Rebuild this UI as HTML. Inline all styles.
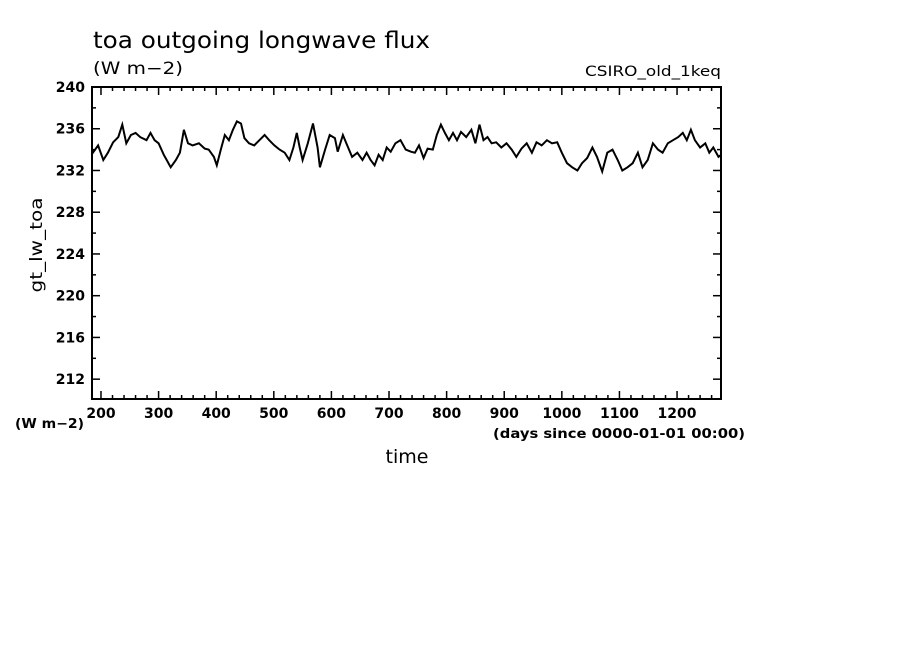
<!DOCTYPE html>
<html><head><meta charset="utf-8"><style>
body{margin:0;background:#fff;}
svg text{font-family:"DejaVu Sans","Liberation Sans",sans-serif;fill:#000;}
</style></head><body>
<svg width="904" height="654" xmlns="http://www.w3.org/2000/svg">
<text x="93" y="48" font-size="23" textLength="337" lengthAdjust="spacingAndGlyphs">toa outgoing longwave flux</text>
<text x="93" y="74" font-size="17" textLength="90" lengthAdjust="spacingAndGlyphs">(W m−2)</text>
<text x="585" y="76" font-size="14" textLength="136" lengthAdjust="spacingAndGlyphs">CSIRO_old_1keq</text>
<text x="15" y="428" font-size="13" font-weight="bold" textLength="69" lengthAdjust="spacingAndGlyphs">(W m−2)</text>
<text x="493" y="438" font-size="13" font-weight="bold" textLength="252" lengthAdjust="spacingAndGlyphs">(days since 0000-01-01 00:00)</text>
<text x="407" y="463" font-size="19" text-anchor="middle">time</text>
<text transform="translate(42,245) rotate(-90)" font-size="17" text-anchor="middle" textLength="95" lengthAdjust="spacingAndGlyphs">gt_lw_toa</text>
<g id="axes"></g>
<defs><clipPath id="clip"><rect x="92" y="87" width="629" height="312"/></clipPath></defs>
<polyline id="series" fill="none" stroke="#000" stroke-width="2" clip-path="url(#clip)"/>
<rect x="92" y="87" width="629" height="312" fill="none" stroke="#000" stroke-width="2"/>
</svg>
<script>
const days=[181,186,195,204,212,221,230,237,244,252,260,268,279,286,293,300,309,314,321,330,337,344,351,359,370,380,387,396,401,408,415,422,429,436,443,449,457,466,475,484,492,501,510,519,527,534,540,545,550,559,568,576,580,589,597,606,611,620,629,636,645,654,661,668,675,682,689,696,703,711,720,729,738,745,752,760,767,776,783,790,797,804,811,818,825,834,843,850,857,864,871,878,886,895,904,913,921,930,939,948,956,965,974,983,992,1000,1009,1018,1027,1035,1044,1053,1061,1070,1079,1088,1097,1105,1114,1123,1132,1140,1149,1158,1167,1175,1184,1193,1202,1210,1217,1224,1231,1240,1249,1256,1263,1272,1281];
const flux=[234.8,233.7,234.4,233.0,233.7,234.7,235.2,236.4,234.6,235.4,235.6,235.2,234.9,235.6,234.9,234.6,233.5,233.0,232.3,233.0,233.7,235.9,234.6,234.4,234.6,234.1,234.0,233.3,232.5,234.0,235.4,234.9,235.9,236.7,236.5,235.1,234.6,234.4,234.9,235.4,234.9,234.4,234.0,233.7,233.0,234.2,235.6,234.2,233.0,234.6,236.5,234.2,232.3,234.0,235.4,235.1,233.8,235.4,234.2,233.3,233.7,233.0,233.7,233.0,232.5,233.5,233.0,234.2,233.8,234.6,234.9,234.0,233.8,233.7,234.4,233.2,234.1,234.0,235.4,236.4,235.6,234.9,235.6,234.9,235.7,235.2,235.9,234.6,236.4,234.9,235.2,234.6,234.7,234.2,234.6,234.0,233.3,234.1,234.6,233.7,234.7,234.4,234.9,234.6,234.7,233.7,232.7,232.3,232.0,232.7,233.2,234.2,233.3,231.9,233.7,234.0,233.0,232.0,232.3,232.7,233.7,232.3,233.0,234.6,234.0,233.7,234.6,234.9,235.2,235.6,234.9,235.9,234.9,234.2,234.6,233.7,234.2,233.3,233.7];
const xTicks=[200,300,400,500,600,700,800,900,1000,1100,1200];
const yTicks=[212,216,220,224,228,232,236,240];
const X0=92,X1=721,Y0=87,Y1=399;
const xMin=184.4,xMax=1276.3,yMin=210.1,yMax=240;
const sx=d=>X0+(d-xMin)/(xMax-xMin)*(X1-X0);
const sy=v=>Y1-(v-yMin)/(yMax-yMin)*(Y1-Y0);
const NS="http://www.w3.org/2000/svg";
const ax=document.getElementById('axes');
function line(x1,y1,x2,y2,name){const l=document.createElementNS(NS,'line');l.setAttribute('x1',x1);l.setAttribute('y1',y1);l.setAttribute('x2',x2);l.setAttribute('y2',y2);l.setAttribute('stroke','#000');l.setAttribute('stroke-width','1.5');


ax.appendChild(l);}
function txt(x,y,s,anchor,name){const t=document.createElementNS(NS,'text');t.setAttribute('x',x);t.setAttribute('y',y);t.setAttribute('font-size','14');t.setAttribute('font-weight','bold');t.setAttribute('text-anchor',anchor);t.textContent=s;


ax.appendChild(t);}
for(let d=200;d<=1270;d+=20){const x=sx(d);const major=d%100===0;const L=major?8:4;
line(x,Y1,x,Y1-L,'x-tick');line(x,Y0,x,Y0+L,'x-tick-top');}
xTicks.forEach(d=>txt(sx(d),418,String(d),'middle','x-tick-label'));
for(let v=212;v<=240;v+=2){const y=sy(v);const major=v%4===0;const L=major?8:4;
line(X0,y,X0+L,y,'y-tick');line(X1,y,X1-L,y,'y-tick-right');}
yTicks.forEach(v=>txt(85,sy(v)+5,String(v),'end','y-tick-label'));
let pts=[];for(let i=0;i<days.length;i++){pts.push(sx(days[i]).toFixed(1)+','+sy(flux[i]).toFixed(1));}
document.getElementById('series').setAttribute('points',pts.join(' '));
</script>
</body></html>
